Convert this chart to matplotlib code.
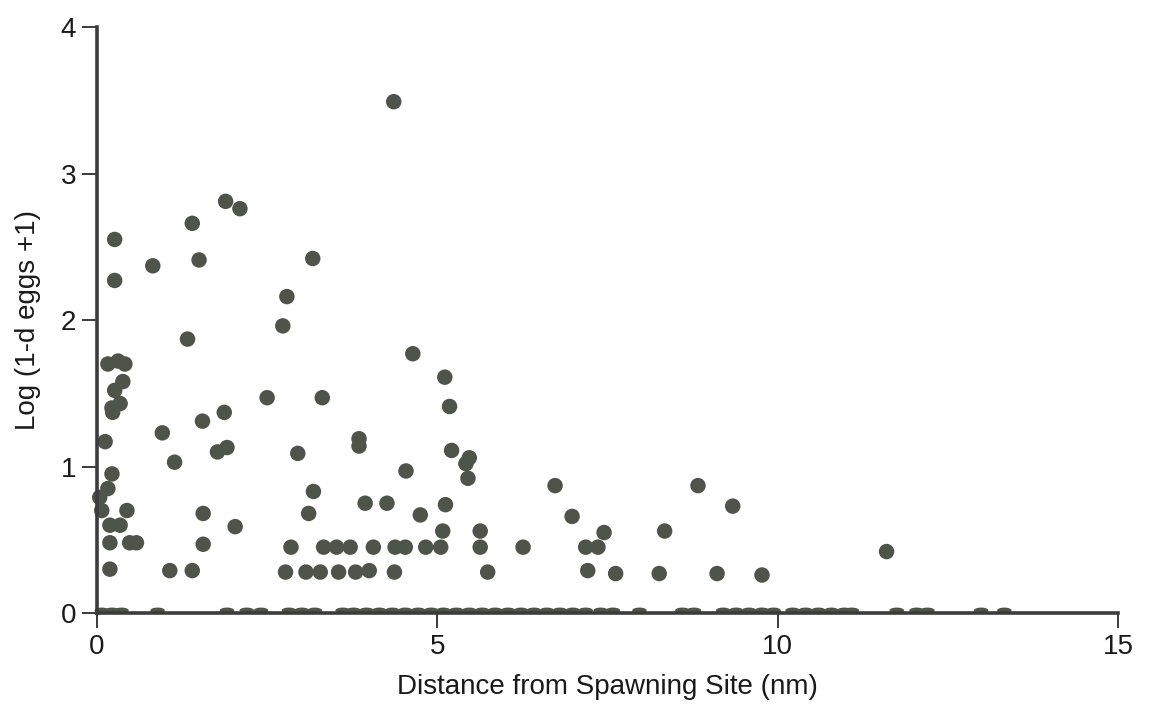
from matplotlib import pyplot as plt
from matplotlib.path import Path
import numpy as np

# 非零点：距离 (nm) 与 log(1-d eggs +1)
dist = [0.26, 0.26, 0.82, 1.40, 1.50, 1.33,
        0.16, 0.31, 0.41, 0.38, 0.26, 0.34, 0.22, 0.23,
        1.87, 1.55, 0.96, 0.12, 1.91, 1.77, 1.14,
        0.22, 0.16, 0.04, 0.07, 0.44, 1.56,
        0.19, 0.34, 2.03, 0.19, 0.48, 0.58, 1.56,
        0.19, 1.07, 1.40,
        1.89, 2.10, 3.17, 2.79, 2.73, 2.50, 3.31,
        3.85, 3.85, 2.95, 3.18, 3.94, 4.26, 3.11,
        2.85, 3.33, 3.52, 3.72, 4.06, 4.38, 4.53, 4.83, 5.05, 5.63, 6.26, 7.18, 7.36,
        2.77, 3.07, 3.28, 3.55, 3.80, 4.00, 4.37, 5.74, 7.21, 7.62, 8.26, 9.11, 9.77,
        4.36, 4.64, 5.11, 5.18, 5.21, 5.47, 5.42, 5.45, 4.54,
        6.73, 4.75, 5.12, 6.98, 7.45, 5.08, 5.63,
        8.83, 9.34, 8.34, 11.60]
eggs = [2.55, 2.27, 2.37, 2.66, 2.41, 1.87,
        1.70, 1.72, 1.70, 1.58, 1.52, 1.43, 1.40, 1.37,
        1.37, 1.31, 1.23, 1.17, 1.13, 1.10, 1.03,
        0.95, 0.85, 0.79, 0.70, 0.70, 0.68,
        0.60, 0.60, 0.59, 0.48, 0.48, 0.48, 0.47,
        0.30, 0.29, 0.29,
        2.81, 2.76, 2.42, 2.16, 1.96, 1.47, 1.47,
        1.19, 1.14, 1.09, 0.83, 0.75, 0.75, 0.68,
        0.45, 0.45, 0.45, 0.45, 0.45, 0.45, 0.45, 0.45, 0.45, 0.45, 0.45, 0.45, 0.45,
        0.28, 0.28, 0.28, 0.28, 0.28, 0.29, 0.28, 0.28, 0.29, 0.27, 0.27, 0.27, 0.26,
        3.49, 1.77, 1.61, 1.41, 1.11, 1.06, 1.02, 0.92, 0.97,
        0.87, 0.67, 0.74, 0.66, 0.55, 0.56, 0.56,
        0.87, 0.73, 0.56, 0.42]

# 零值点（沿x轴的小凸起）
dist_zero = [0.07, 0.22, 0.36, 0.89, 1.91, 2.20, 2.41, 2.82, 3.01, 3.20,
             3.61, 3.77, 3.96, 4.15, 4.34, 4.53, 4.72, 4.91, 5.09, 5.28,
             5.47, 5.66, 5.85, 6.04, 6.23, 6.42, 6.61, 6.80, 6.99, 7.18,
             7.40, 7.58, 7.97, 8.60, 8.77, 9.20, 9.39, 9.58, 9.77, 9.94,
             10.22, 10.41, 10.60, 10.79, 10.98, 11.09, 11.75, 12.04, 12.20,
             12.99, 13.33]

x_ticks = [0, 5, 10, 15]
y_ticks = [0, 1, 2, 3, 4]

dot_color = '#4e544a'
axis_color = '#3c3c3c'

plt.rcParams['font.family'] = ['Liberation Sans', 'DejaVu Sans']

fig = plt.figure(figsize=(11.49, 7.23), dpi=100)
ax = fig.add_axes([0.0844, 0.152, 0.8886, 0.8107])

ax.scatter(dist, eggs, s=124, c=dot_color, edgecolors='none', clip_on=False, zorder=3)

# 扁椭圆标记，模拟被轴线压住的零值点
t = np.linspace(0, 2 * np.pi, 40)
ellipse = Path(np.column_stack([np.cos(t), 0.4 * np.sin(t)]))
ax.scatter(dist_zero, [0.018] * len(dist_zero), s=110, marker=ellipse,
           c=dot_color, edgecolors='none', clip_on=False, zorder=2)

ax.set_xlim(0, 15)
ax.set_ylim(0, 4)
ax.set_xticks(x_ticks)
ax.set_yticks(y_ticks)

for side in ['top', 'right']:
    ax.spines[side].set_visible(False)
for side in ['left', 'bottom']:
    ax.spines[side].set_linewidth(2.6)
    ax.spines[side].set_color(axis_color)
    ax.spines[side].set_zorder(4)

ax.tick_params(axis='both', direction='out', length=11, width=1.4,
               color=axis_color, labelsize=20, labelcolor='#1a1a1a', pad=4)

ax.set_xlabel('Distance from Spawning Site (nm)', fontsize=20, color='#1a1a1a', labelpad=10)
ax.set_ylabel('Log (1-d eggs +1)', fontsize=20, color='#1a1a1a', labelpad=14)

plt.savefig('out.png', dpi=100)
